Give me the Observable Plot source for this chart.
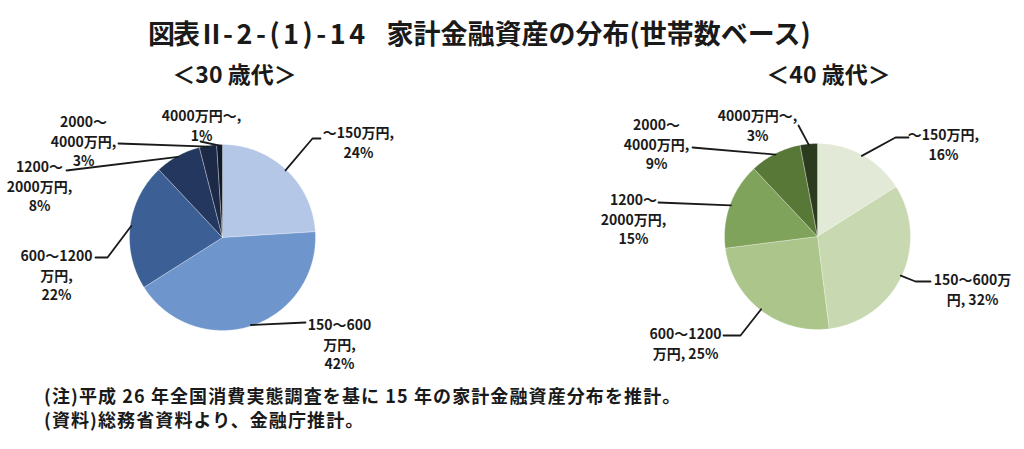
<!DOCTYPE html>
<html><head><meta charset="utf-8">
<script src="https://cdn.jsdelivr.net/npm/d3@7"></script>
<script src="https://cdn.jsdelivr.net/npm/@observablehq/plot@0.6"></script>
<style>
body{margin:0;background:#fff;font-family:"Noto Sans CJK JP","Noto Sans",sans-serif;color:#1a1a1a;}
#title{height:50px;position:relative;}
#title div{position:absolute;left:148px;top:19px;font-size:27px;line-height:27px;font-weight:700;white-space:pre;}
#title .a{letter-spacing:-2px;}
#title .m{letter-spacing:3.5px;}
#title .g{display:inline-block;width:18px;}
#notes{height:69px;position:relative;}
#notes div{position:absolute;left:44px;font-size:18px;line-height:18px;font-weight:700;letter-spacing:1.1px;white-space:pre;}
</style></head><body>
<div id="title"><div><span class="a">図表Ⅱ</span><span class="m">-2-(1)-14</span><span class="g"></span><span>家計金融資産の分布(世帯数ベース)</span></div></div>
<div id="chart"></div>
<div id="notes">
<div style="top:6px">(注)平成 26 年全国消費実態調査を基に 15 年の家計金融資産分布を推計。</div>
<div style="top:30px">(資料)総務省資料より、金融庁推計。</div>
</div>
<script>
// ---- data ----
const categories = ["～150万円","150～600万円","600～1200万円","1200～2000万円","2000～4000万円","4000万円～"];
const values30 = [24,42,22,8,3,1];
const values40 = [16,32,25,15,9,3];
const groupTitles = ["＜30 歳代＞","＜40 歳代＞"];
// ---- styles ----
const colors30 = ["#b4c7e6","#6e96cd","#3c5f96","#23375f","#1c2a48","#101a2d"];
const colors40 = ["#e2e9d6","#c8d8b0","#abc58b","#7fa35a","#587837","#2b3c1e"];
// ---- layout (page pixel positions) ----
const TOP = 50, H = 330;
const layout = [
  {cx:222, cy:237, r:93, title:[234,75], labels:[
    {at:[358,141], cuts:[7],    path:[[312,138],[320,138]]},
    {at:[339,343], cuts:[7,10], path:[[305,322]]},
    {at:[56,274],  cuts:[8,11], path:[[107,257],[95,257]]},
    {at:[39,185],  cuts:[5,12], path:[[66,170]]},
    {at:[83,140],  cuts:[5,12], path:[[118,143]]},
    {at:[201,124], cuts:[8],    path:[[200,141]]}
  ]},
  {cx:817, cy:236, r:93, title:[828,75], labels:[
    {at:[943,143], cuts:[7],    path:[[895,137],[908,137]]},
    {at:[972,288], cuts:[8],    path:[[915,281],[930,281]]},
    {at:[685,342], cuts:[8],    path:[[740,335],[723,335]]},
    {at:[633,218], cuts:[5,12], path:[[658,202]]},
    {at:[656,143], cuts:[5,12], path:[[692,147]]},
    {at:[757,124], cuts:[8],    path:[[798,125]]}
  ]}
];

function wrap(s, cuts){
  const parts=[]; let prev=0;
  for (const c of cuts){ parts.push(s.slice(prev,c).trim()); prev=c; }
  parts.push(s.slice(prev).trim());
  return parts.join("\n");
}

const slices=[], leaders=[], labels=[], titles=[];
[[values30,colors30],[values40,colors40]].forEach(([vals,cols],g)=>{
  const L = layout[g];
  titles.push({px:L.title[0], py:L.title[1], text:groupTitles[g]});
  const arcs = d3.pie().sort(null).value(d=>d)(vals);
  arcs.forEach((a,i)=>{
    const key = g+"-"+i, color = cols[i];
    slices.push({key, color, px:L.cx, py:L.cy});
    const n = Math.max(2, Math.ceil((a.endAngle-a.startAngle)/0.01));
    for (let k=0;k<=n;k++){
      const t = a.startAngle + (a.endAngle-a.startAngle)*k/n;
      slices.push({key, color, px:L.cx+L.r*Math.sin(t), py:L.cy-L.r*Math.cos(t)});
    }
    slices.push({key, color, px:L.cx, py:L.cy});
    const mid = (a.startAngle+a.endAngle)/2, lab = L.labels[i];
    leaders.push({key, px:L.cx+(L.r-1)*Math.sin(mid), py:L.cy-(L.r-1)*Math.cos(mid)});
    lab.path.forEach(([x,y])=>leaders.push({key, px:x, py:y}));
    labels.push({px:lab.at[0], py:lab.at[1], text:wrap(`${categories[i]}, ${vals[i]}%`, lab.cuts)});
  });
});

const font = '"Noto Sans CJK JP", sans-serif';
const chart = Plot.plot({
  width:1024, height:H, margin:0,
  x:{domain:[0,1024], range:[0,1024], axis:null},
  y:{domain:[TOP,TOP+H], range:[0,H], axis:null},
  color:{type:"identity"},
  style:{fontFamily:font, background:"#fff"},
  marks:[
    Plot.line(slices,{x:"px", y:"py", z:"key", fill:"color", stroke:"#ffffff", strokeWidth:0.5, strokeOpacity:0.6, curve:"linear"}),
    Plot.line(leaders,{x:"px", y:"py", z:"key", stroke:"#1a1a1a", strokeWidth:1.8, curve:"linear"}),
    Plot.text(labels,{x:"px", y:"py", text:"text", fontSize:14, fontWeight:"bold", lineHeight:1.4, fill:"#1a1a1a", fontFamily:font}),
    Plot.text(titles,{x:"px", y:"py", text:"text", fontSize:23, fontWeight:"bold", fill:"#1a1a1a", fontFamily:font})
  ]
});
document.getElementById("chart").appendChild(chart);
</script>
</body></html>
